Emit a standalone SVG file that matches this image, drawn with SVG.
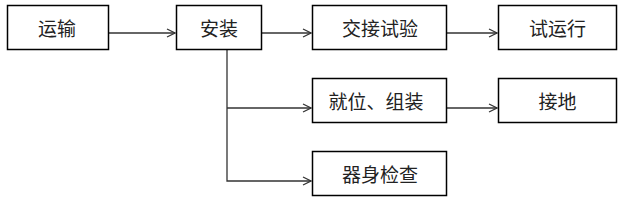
<svg xmlns="http://www.w3.org/2000/svg" width="643" height="206" viewBox="0 0 643 206">
<style>
.box{fill:#fff;stroke:#000;stroke-width:1.5}
.t{font-family:"Noto Sans CJK SC","Liberation Sans",sans-serif;font-size:19px;fill:#222;text-anchor:middle;dominant-baseline:central}
.c{fill:none;stroke:#333;stroke-width:1.3}
</style>
<defs>
<marker id="a" markerWidth="10" markerHeight="10" refX="9" refY="5" orient="auto" markerUnits="userSpaceOnUse">
<path d="M1,1 L9,5 L1,9" fill="none" stroke="#333" stroke-width="1.2"/>
</marker>
</defs>
<g id="connectors">
<path class="c" d="M108.5,33 H175" marker-end="url(#a)"/>
<path class="c" d="M262,33 H311" marker-end="url(#a)"/>
<path class="c" d="M447,33 H497" marker-end="url(#a)"/>
<path class="c" d="M227,49.5 V181 H311" marker-end="url(#a)"/>
<path class="c" d="M227,108 H311" marker-end="url(#a)"/>
<path class="c" d="M447,108 H497" marker-end="url(#a)"/>
</g>
<g id="n1"><rect class="box" x="7.5" y="5.5" width="101" height="44"/><text class="t" x="57" y="27.5">运输</text></g>
<g id="n2"><rect class="box" x="176.5" y="5.5" width="85" height="44"/><text class="t" x="219" y="27.5">安装</text></g>
<g id="n3"><rect class="box" x="312.5" y="5.5" width="134" height="44"/><text class="t" x="380" y="27.5">交接试验</text></g>
<g id="n4"><rect class="box" x="498.5" y="5.5" width="118" height="44"/><text class="t" x="557.5" y="27.5">试运行</text></g>
<g id="n5"><rect class="box" x="312.5" y="78.5" width="134" height="44"/><text class="t" x="376" y="100.5">就位、组装</text></g>
<g id="n6"><rect class="box" x="498.5" y="78.5" width="118" height="44"/><text class="t" x="557.5" y="100.5">接地</text></g>
<g id="n7"><rect class="box" x="312.5" y="151.5" width="134" height="44"/><text class="t" x="380" y="173.5">器身检查</text></g>
</svg>
